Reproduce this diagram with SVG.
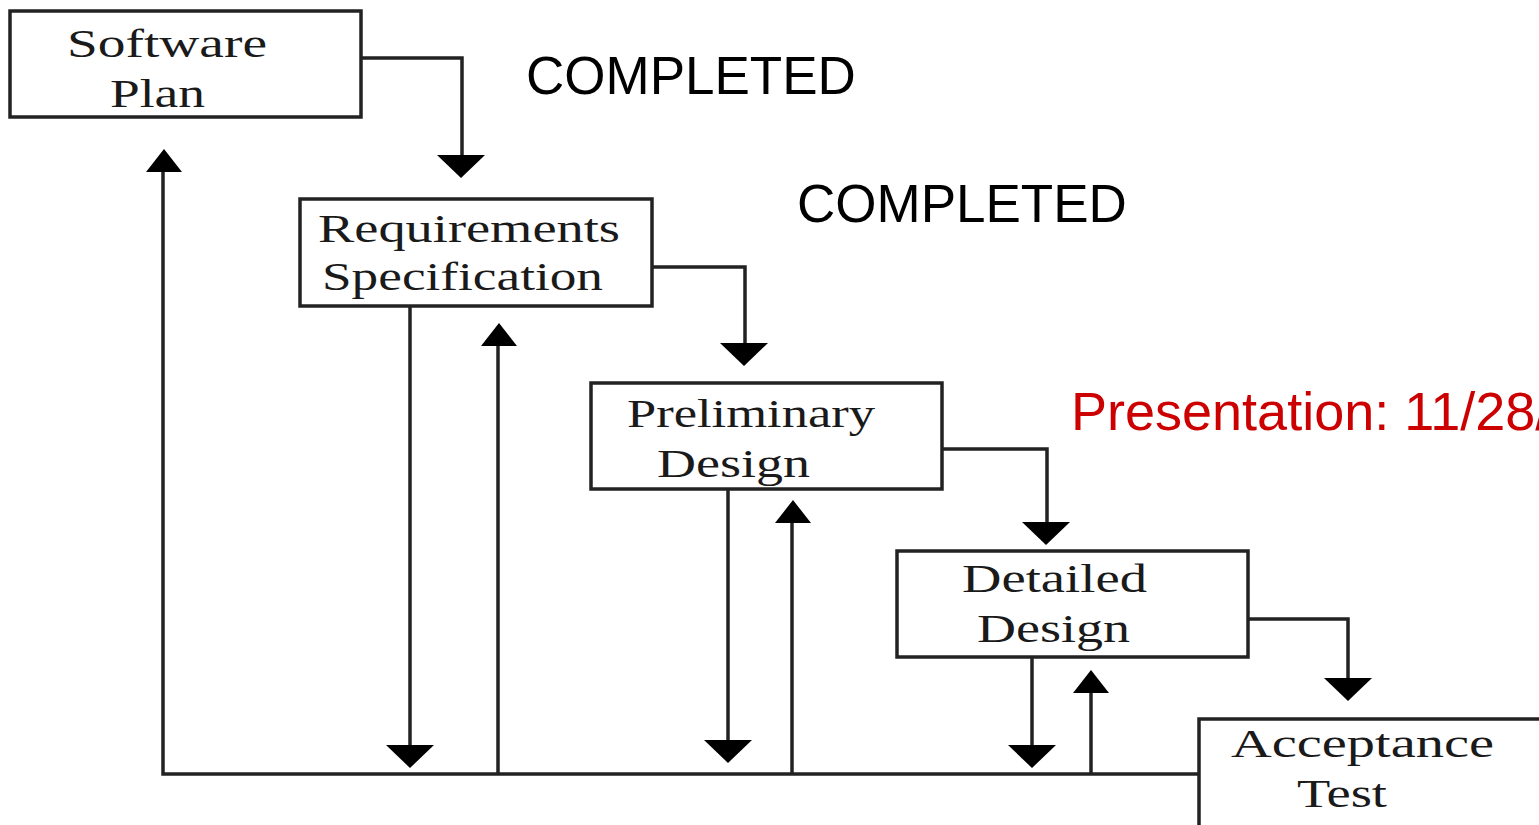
<svg xmlns="http://www.w3.org/2000/svg" xmlns:xlink="http://www.w3.org/1999/xlink" width="1539" height="825" viewBox="0 0 1539 825">
<style>
.box{fill:#fff;stroke:#222;stroke-width:3.5}
.lbl{font-family:"Liberation Serif","DejaVu Serif",serif;font-size:40px;fill:#1a1a1a}
.wire{fill:none;stroke:#222;stroke-width:3.5}
.head{fill:#000}
.note{font-family:"Liberation Sans",Arial,sans-serif;font-size:53px;fill:#000}
.red{fill:#cc0000;font-size:54px}
</style>
<defs>
<path id="down" d="M-24,0 L24,0 L0,23 Z"/>
<path id="up" d="M-18,0 L18,0 L0,-23 Z"/>
</defs>
<rect width="1539" height="825" fill="#fff"/>
<g id="connectors">
<path class="wire" d="M361,58 H462 V156"/>
<path class="wire" d="M652,267 H745 V344"/>
<path class="wire" d="M942,449 H1047 V523"/>
<path class="wire" d="M1248,619 H1348 V679"/>
<path class="wire" d="M410,307 V746"/>
<path class="wire" d="M728,489 V741"/>
<path class="wire" d="M1032,657 V746"/>
<path class="wire" d="M1200,774 H163 V171"/>
<path class="wire" d="M498,774 V344"/>
<path class="wire" d="M792,774 V521"/>
<path class="wire" d="M1091,774 V692"/>
<use xlink:href="#down" class="head" x="461" y="155"/>
<use xlink:href="#down" class="head" x="744" y="343"/>
<use xlink:href="#down" class="head" x="1046" y="522"/>
<use xlink:href="#down" class="head" x="1348" y="678"/>
<use xlink:href="#down" class="head" x="410" y="745"/>
<use xlink:href="#down" class="head" x="728" y="740"/>
<use xlink:href="#down" class="head" x="1032" y="745"/>
<use xlink:href="#up" class="head" x="164" y="172"/>
<use xlink:href="#up" class="head" x="499" y="346"/>
<use xlink:href="#up" class="head" x="793" y="523"/>
<use xlink:href="#up" class="head" x="1091" y="693"/>
</g>
<g id="software-plan">
<rect class="box" x="10" y="11" width="351" height="106"/>
<text class="lbl" x="67" y="57" textLength="200" lengthAdjust="spacingAndGlyphs">Software</text>
<text class="lbl" x="110" y="107" textLength="95" lengthAdjust="spacingAndGlyphs">Plan</text>
</g>
<g id="requirements-specification">
<rect class="box" x="300" y="199" width="352" height="107"/>
<text class="lbl" x="318" y="242" textLength="302" lengthAdjust="spacingAndGlyphs">Requirements</text>
<text class="lbl" x="322" y="290" textLength="281" lengthAdjust="spacingAndGlyphs">Specification</text>
</g>
<g id="preliminary-design">
<rect class="box" x="591" y="383" width="351" height="106"/>
<text class="lbl" x="627" y="427" textLength="248" lengthAdjust="spacingAndGlyphs">Preliminary</text>
<text class="lbl" x="657" y="477" textLength="153" lengthAdjust="spacingAndGlyphs">Design</text>
</g>
<g id="detailed-design">
<rect class="box" x="897" y="551" width="351" height="106"/>
<text class="lbl" x="962" y="592" textLength="185" lengthAdjust="spacingAndGlyphs">Detailed</text>
<text class="lbl" x="977" y="642" textLength="153" lengthAdjust="spacingAndGlyphs">Design</text>
</g>
<g id="acceptance-test">
<rect class="box" x="1199" y="719" width="360" height="130"/>
<text class="lbl" x="1231" y="757" textLength="263" lengthAdjust="spacingAndGlyphs">Acceptance</text>
<text class="lbl" x="1297" y="807" textLength="90" lengthAdjust="spacingAndGlyphs">Test</text>
</g>
<g id="notes">
<text class="note" x="526" y="94">COMPLETED</text>
<text class="note" x="797" y="222">COMPLETED</text>
<text class="note red" x="1071" y="430">Presentation: 11/28/</text>
</g>
</svg>
